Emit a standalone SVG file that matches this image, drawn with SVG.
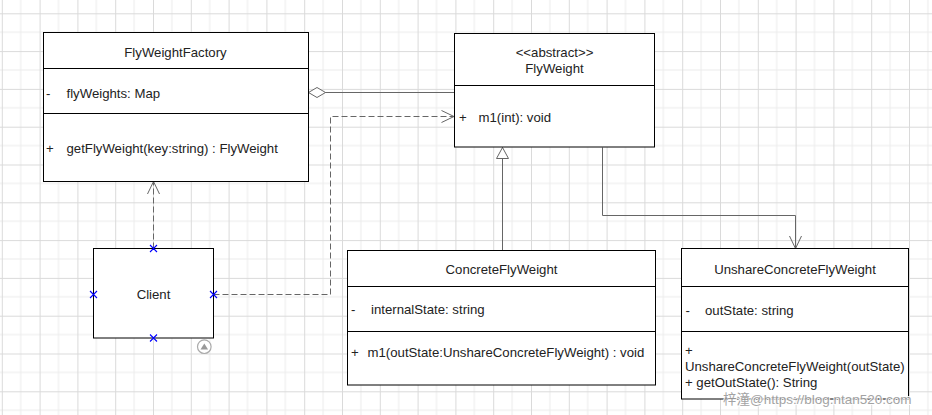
<svg xmlns="http://www.w3.org/2000/svg" width="932" height="415" viewBox="0 0 932 415">
<defs>
<pattern id="grid" patternUnits="userSpaceOnUse" x="1.8" y="13.3" width="37.8" height="37.8">
<path d="M18.9 0V37.8M0 18.9H37.8" stroke="#ececec" stroke-width="1" fill="none"/>
<path d="M0.5 0V37.8M0 0.5H37.8" stroke="#dadada" stroke-width="1" fill="none"/>
</pattern>
<marker id="open" viewBox="0 0 14 14" refX="13" refY="7" markerWidth="14" markerHeight="14" markerUnits="userSpaceOnUse" orient="auto">
<path d="M0.5 1 L13 7 L0.5 13" fill="none" stroke="#666" stroke-width="1"/>
</marker>
<marker id="tri" viewBox="0 0 14 14" refX="13" refY="7" markerWidth="14" markerHeight="14" markerUnits="userSpaceOnUse" orient="auto">
<path d="M2 1 L13 7 L2 13 Z" fill="#fff" stroke="#666" stroke-width="1"/>
</marker>
<marker id="dia" viewBox="0 0 20 12" refX="18" refY="6" markerWidth="20" markerHeight="12" markerUnits="userSpaceOnUse" orient="auto">
<path d="M1 6 L9.5 1 L18 6 L9.5 11 Z" fill="#fff" stroke="#666" stroke-width="1"/>
</marker>
</defs>
<style>
.box{fill:#fff;stroke:#000;stroke-width:1}
.div{stroke:#000;stroke-width:1}
text{font-family:"Liberation Sans",Arial,sans-serif;font-size:13.2px;fill:#222}
.c{text-anchor:middle}
.conn{fill:none;stroke:#666;stroke-width:1}
.dash{stroke-dasharray:6 3}
.pt{stroke:#0000ff;stroke-width:1.1;fill:none}
</style>
<rect width="932" height="415" fill="#fff"/>
<rect width="932" height="415" fill="url(#grid)"/>

<g id="connectors">
<path class="conn" d="M454 92.5H308.5" marker-end="url(#dia)"/>
<path class="conn dash" d="M213.5 294.5H330.5V116.5H454" marker-end="url(#open)"/>
<path class="conn dash" d="M153.5 248.5V181.5" marker-end="url(#open)"/>
<path class="conn" d="M502.5 250.5V147.5" marker-end="url(#tri)"/>
<path class="conn" d="M602.5 147.5V215.5H795.5V248.5" marker-end="url(#open)"/>
</g>

<g id="FlyWeightFactory">
<rect class="box" x="43.5" y="32.5" width="265" height="149"/>
<line class="div" x1="43.5" y1="68.5" x2="308.5" y2="68.5"/>
<line class="div" x1="43.5" y1="113.5" x2="308.5" y2="113.5"/>
<text class="c" x="175.5" y="56.5">FlyWeightFactory</text>
<text x="46" y="97.5">-</text>
<text x="66.5" y="97.5">flyWeights: Map</text>
<text x="46" y="153">+</text>
<text x="66.5" y="153">getFlyWeight(key:string) : FlyWeight</text>
</g>

<g id="FlyWeight">
<rect class="box" x="454.5" y="33.5" width="200" height="113.5"/>
<line class="div" x1="454.5" y1="85.5" x2="654.5" y2="85.5"/>
<text class="c" x="554.5" y="57">&lt;&lt;abstract&gt;&gt;</text>
<text class="c" x="554.5" y="73">FlyWeight</text>
<text x="459" y="122">+</text>
<text x="478.5" y="122">m1(int): void</text>
</g>

<g id="Client">
<rect class="box" x="93.5" y="248.5" width="120" height="89.5"/>
<text class="c" x="153.5" y="299">Client</text>
<circle cx="204.3" cy="346.7" r="6.8" fill="#fff" stroke="#aaa" stroke-width="1.2"/>
<path d="M200.5 349.5L204.3 343.5L208.1 349.5Z" fill="#999"/>
<path class="pt" d="M150 245l7 7M157 245l-7 7M150 334.5l7 7M157 334.5l-7 7M90 291l7 7M97 291l-7 7M210 291l7 7M217 291l-7 7"/>
</g>

<g id="ConcreteFlyWeight">
<rect class="box" x="347.5" y="250.5" width="308" height="134.5"/>
<line class="div" x1="347.5" y1="286.5" x2="655.5" y2="286.5"/>
<line class="div" x1="347.5" y1="331.5" x2="655.5" y2="331.5"/>
<text class="c" x="501.5" y="274">ConcreteFlyWeight</text>
<text x="351" y="314">-</text>
<text x="371" y="314">internalState: string</text>
<text x="351" y="356.5">+</text>
<text x="367.5" y="356.5">m1(outState:UnshareConcreteFlyWeight) : void</text>
</g>

<g id="UnshareConcreteFlyWeight">
<rect class="box" x="681.5" y="248.5" width="227" height="150.5"/>
<line class="div" x1="681.5" y1="286.5" x2="908.5" y2="286.5"/>
<line class="div" x1="681.5" y1="331.5" x2="908.5" y2="331.5"/>
<text class="c" x="795" y="273.5">UnshareConcreteFlyWeight</text>
<text x="685.5" y="314.5">-</text>
<text x="705" y="314.5">outState: string</text>
<text x="685" y="354.5">+</text>
<text x="685" y="370.5">UnshareConcreteFlyWeight(outState)</text>
<text x="685" y="387">+ getOutState(): String</text>
</g>

<text x="723" y="404" style="font-family:'Liberation Sans','Noto Sans CJK SC',sans-serif;font-size:13.5px;fill:#9a9a9a;stroke:#fff;stroke-width:2;paint-order:stroke;opacity:0.9">梓潼@https://blog.ntan520.com</text>
</svg>
